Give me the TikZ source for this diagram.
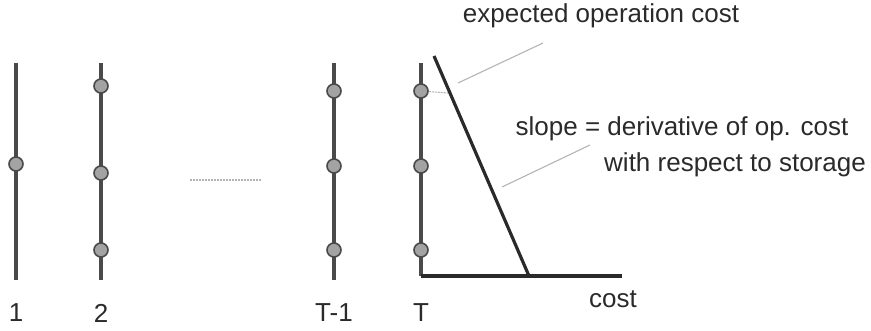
\documentclass[tikz,border=0pt]{standalone}
\usepackage{fontspec}
\setmainfont{Liberation Sans}
\usetikzlibrary{positioning}
\definecolor{ink}{HTML}{2A2A2A}
\definecolor{dot}{HTML}{A3A3A3}
\definecolor{lead}{HTML}{B4B4B4}

\begin{document}
\begin{tikzpicture}[x=1pt,y=-1pt,
  every node/.style={font=\fontsize{26}{31}\selectfont,text=ink},
  stage/.style={line width=3.2pt,ink!85},
  state/.style={circle,draw=ink!85,fill=dot,line width=1.6pt,minimum size=14pt,inner sep=0pt},
  leader/.style={lead,line width=1.1pt}]
  \useasboundingbox (0,0) rectangle (871,331);
  % stages
  \coordinate (s1top) at (16,63);   \coordinate (s1bot) at (16,280);
  \coordinate (s2top) at (101,63);  \coordinate (s2bot) at (101,280);
  \coordinate (s3top) at (334,63);  \coordinate (s3bot) at (334,280);
  \coordinate (s4top) at (421,63);  \coordinate (origin) at (421,276);
  \draw[stage] (s1top) -- (s1bot);
  \draw[stage] (s2top) -- (s2bot);
  \draw[stage] (s3top) -- (s3bot);
  \draw[stage] (s4top) -- (origin);
  \node[state] (s1a) at (16,164) {};
  \node[state] (s2a) at (101,86) {};
  \node[state] (s2b) at (101,173) {};
  \node[state] (s2c) at (101,250) {};
  \foreach \y/\n in {91/a,166/b,250/c} {
    \node[state] (s3\n) at (334,\y) {};
    \node[state] (s4\n) at (421,\y) {};
  }
  \node (l1) at (16,313) {1};
  \node (l2) at (101,313) {2};
  \node (l3) at (334,313) {T-1};
  \node (l4) at (421,313) {T};
  % gap between stages
  \coordinate (gapl) at (190,180); \coordinate (gapr) at (262,180);
  \draw[leader,dash pattern=on 2pt off 1pt] (gapl) -- (gapr);
  % cost axis and line
  \coordinate (axend) at (622,276);
  \coordinate (costtop) at (434,56); \coordinate (costbot) at (529,276);
  \draw[line width=3.2pt,ink] (origin) -- (axend);
  \draw[line width=3.2pt,ink] (costtop) -- (costbot);
  \coordinate (hit) at (448,93);
  \draw[leader,dash pattern=on 2pt off 1pt] (s4a) -- (hit);
  \node (cost) at (613,299) {cost};
  % labels
  \node (exp) at (601,16) {expected operation cost};
  \node (slope) at (682,129) {slope = derivative of op. cost};
  \node (wrt) at (735,165) {with respect to storage};
  \coordinate (e1) at (458,83);  \coordinate (e2) at (543,43);
  \coordinate (d1) at (502,187); \coordinate (d2) at (590,145);
  \draw[leader] (e1) -- (e2);
  \draw[leader] (d1) -- (d2);
\end{tikzpicture}
\end{document}
